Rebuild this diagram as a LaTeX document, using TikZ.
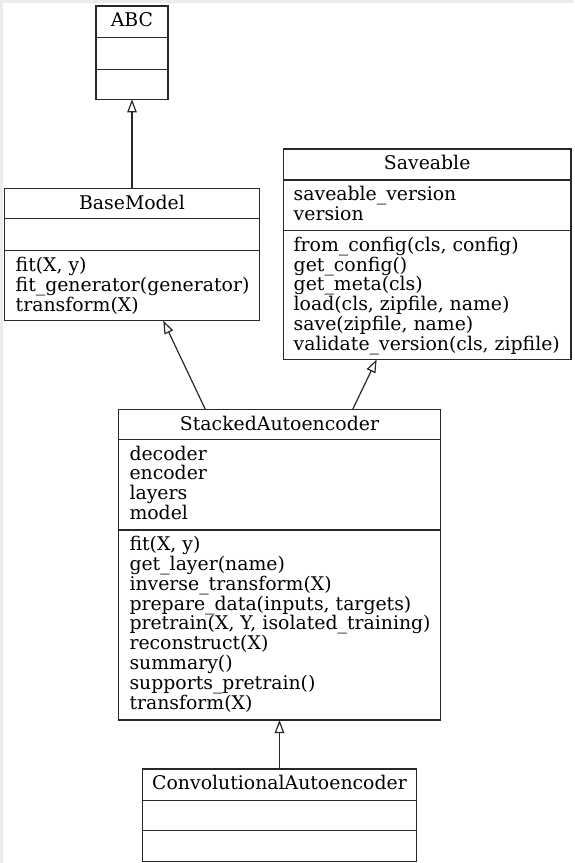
\documentclass[tikz,border=0pt]{standalone}
\usepackage{fontspec}
\setmainfont{DejaVu Serif}
\usetikzlibrary{arrows.meta}
\definecolor{bgrey}{RGB}{236,236,236}
\definecolor{ink}{RGB}{40,40,40}
\begin{document}
\begin{tikzpicture}[x=1pt,y=-1pt,
  cls/.style={draw=ink, line width=1.2pt, rectangle, inner sep=0pt, outer sep=0pt, anchor=north west},
  sep/.style={draw=ink, line width=1.2pt},
  txt/.style={anchor=base west, inner sep=0pt, font=\fontsize{18.85}{22}\selectfont, text=black},
  ttl/.style={anchor=base, inner sep=0pt, font=\fontsize{18.85}{22}\selectfont, text=black},
  inh/.style={draw=ink, line width=1.2pt, -{Triangle[open, length=13pt, width=9.5pt]}}
]
\useasboundingbox (0,0) rectangle (574,863);
\fill[bgrey] (0,0) rectangle (574,863);
\fill[white] (3.3,3.3) rectangle (574,863);

% ABC
\node[cls, minimum width=72pt, minimum height=93.3pt] (abc) at (96,6) {};
\draw[sep] (abc.west |- 0,37.7) -- (abc.east |- 0,37.7);
\draw[sep] (abc.west |- 0,69.3) -- (abc.east |- 0,69.3);
\node[ttl] (abc-t) at (132,26.7) {ABC};

% BaseModel
\node[cls, minimum width=254.6pt, minimum height=132.4pt] (base) at (4.7,188.3) {};
\draw[sep] (base.west |- 0,218.7) -- (base.east |- 0,218.7);
\draw[sep] (base.west |- 0,250.7) -- (base.east |- 0,250.7);
\node[ttl] (base-t) at (132,209) {BaseModel};
\foreach \t [count=\i] in {{fit(X, y)},{fit\_generator(generator)},{transform(X)}}
  \node[txt] (base-m\i) at (15.5,{271.4+(\i-1)*19.8}) {\t};

% Saveable
\node[cls, minimum width=287.7pt, minimum height=210.5pt] (sav) at (283.3,149) {};
\draw[sep] (sav.west |- 0,180) -- (sav.east |- 0,180);
\draw[sep] (sav.west |- 0,230.5) -- (sav.east |- 0,230.5);
\node[ttl] (sav-t) at (427.2,169.7) {Saveable};
\foreach \t [count=\i] in {{saveable\_version},{version}}
  \node[txt] (sav-a\i) at (293.5,{200.7+(\i-1)*19.8}) {\t};
\foreach \t [count=\i] in {{from\_config(cls, config)},{get\_config()},{get\_meta(cls)},{load(cls, zipfile, name)},{save(zipfile, name)},{validate\_version(cls, zipfile)}}
  \node[txt] (sav-m\i) at (293.5,{251.2+(\i-1)*19.8}) {\t};

% StackedAutoencoder
\node[cls, minimum width=322.4pt, minimum height=310.7pt] (sae) at (118.3,409.3) {};
\draw[sep] (sae.west |- 0,439.3) -- (sae.east |- 0,439.3);
\draw[sep] (sae.west |- 0,530) -- (sae.east |- 0,530);
\node[ttl] (sae-t) at (279.5,430) {StackedAutoencoder};
\foreach \t [count=\i] in {decoder,encoder,layers,model}
  \node[txt] (sae-a\i) at (129.3,{460+(\i-1)*19.8}) {\t};
\foreach \t [count=\i] in {{fit(X, y)},{get\_layer(name)},{inverse\_transform(X)},{prepare\_data(inputs, targets)},{pretrain(X, Y, isolated\_training)},{reconstruct(X)},{summary()},{supports\_pretrain()},{transform(X)}}
  \node[txt] (sae-m\i) at (129.3,{550.7+(\i-1)*19.8}) {\t};

% ConvolutionalAutoencoder
\node[cls, minimum width=274.4pt, minimum height=92.7pt] (conv) at (142.3,769) {};
\draw[sep] (conv.west |- 0,800.3) -- (conv.east |- 0,800.3);
\draw[sep] (conv.west |- 0,830.7) -- (conv.east |- 0,830.7);
\node[ttl] (conv-t) at (279.5,789.7) {ConvolutionalAutoencoder};

% inheritance
\draw[inh] (base.north) -- (abc.south);
\draw[inh] ([xshift=-74.2pt]sae.north) -- ([xshift=31.3pt]base.south);
\draw[inh] ([xshift=73.2pt]sae.north) -- ([xshift=-50.5pt]sav.south);
\draw[inh] (conv.north) -- (sae.south);
\end{tikzpicture}
\end{document}
